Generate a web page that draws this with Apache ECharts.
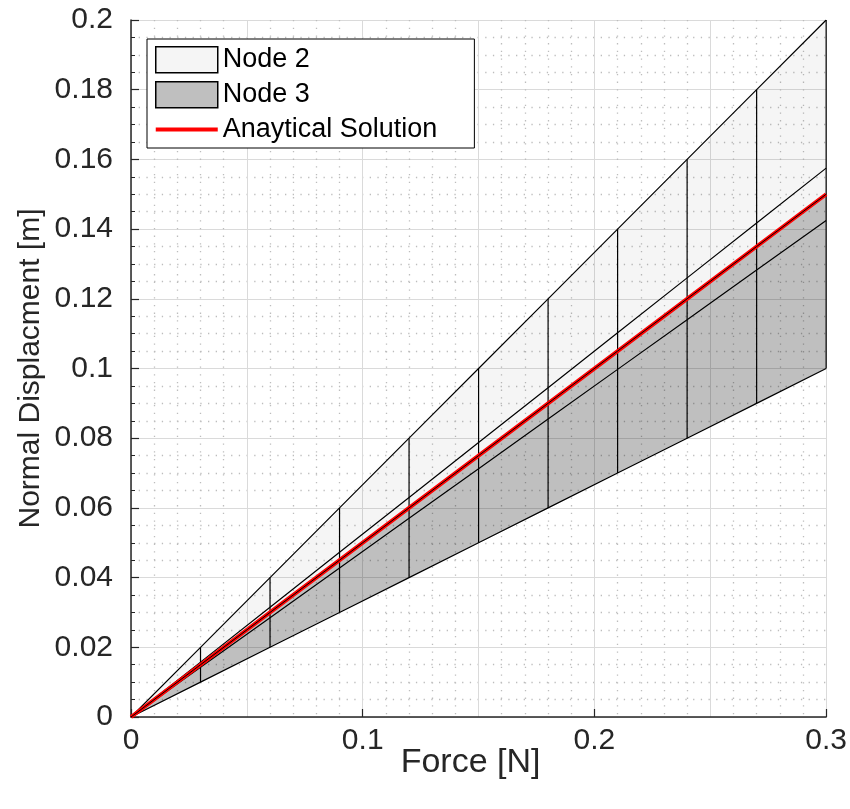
<!DOCTYPE html>
<html>
<head>
<meta charset="utf-8">
<title>Normal displacement vs force</title>
<script src="https://cdn.jsdelivr.net/npm/echarts@6/dist/echarts.min.js"></script>
<style>
  html, body { margin: 0; padding: 0; background: #fff; }
  #chart { width: 850px; height: 809px; }
</style>
</head>
<body>
<div id="chart"></div>
<script>
// Load steps [N]
const force = [0, 0.03, 0.06, 0.09, 0.12, 0.15, 0.18, 0.21, 0.24, 0.27, 0.3];
// Node 2 envelope, upper edge [m]
const node2Upper = [0, 0.02, 0.04, 0.06, 0.08, 0.10, 0.12, 0.14, 0.16, 0.18, 0.20];
// Node 3 envelope, lower edge [m]
const node3Lower = [0, 0.01, 0.02, 0.03, 0.04, 0.05, 0.06, 0.07, 0.08, 0.09, 0.10];
// Closed-form solution [m]
const analytical = [0, 0.015, 0.03, 0.045, 0.06, 0.075, 0.09, 0.105, 0.12, 0.135, 0.15];
// +/- 5 % bounds around the closed-form solution [m]
const boundHigh = [0, 0.01575, 0.0315, 0.04725, 0.063, 0.07875, 0.0945, 0.11025, 0.126, 0.14175, 0.1575];
const boundLow = [0, 0.01425, 0.0285, 0.04275, 0.057, 0.07125, 0.0855, 0.09975, 0.114, 0.12825, 0.1425];

const FONT = "'Liberation Sans', Arial, Helvetica, sans-serif";
const AXIS_COLOR = '#262626';

// Filled band between two curves, drawn as one polygon through the axis scales
function bandRenderer(upper, lower, fill) {
  return function (params, api) {
    const pts = [];
    for (let i = 0; i < force.length; i++) pts.push(api.coord([force[i], upper[i]]));
    for (let i = force.length - 1; i >= 0; i--) pts.push(api.coord([force[i], lower[i]]));
    return { type: 'polygon', shape: { points: pts }, style: { fill: fill, stroke: null } };
  };
}

function lineSeries(values, color, width, z) {
  return {
    type: 'line',
    data: force.map((f, i) => [f, values[i]]),
    symbol: 'none',
    silent: true,
    lineStyle: { color: color, width: width },
    z: z
  };
}

const chart = echarts.init(document.getElementById('chart'), null, { renderer: 'canvas' });

chart.setOption({
  animation: false,
  backgroundColor: '#fff',
  grid: { left: 131, right: 20, top: 20, bottom: 92, containLabel: false },
  legend: {
    orient: 'vertical',
    left: 147,
    top: 39,
    padding: [7, 37, 5, 8],
    itemWidth: 62,
    itemHeight: 26,
    itemGap: 7.5,
    selectedMode: false,
    backgroundColor: '#fff',
    borderColor: '#000',
    borderWidth: 1,
    textStyle: { fontSize: 27, color: '#000', fontFamily: FONT },
    data: [
      { name: 'Node 2', icon: 'rect', itemStyle: { color: '#f5f5f5', borderColor: '#000', borderWidth: 1.5 } },
      { name: 'Node 3', icon: 'rect', itemStyle: { color: '#bfbfbf', borderColor: '#000', borderWidth: 1.5 } },
      { name: 'Anaytical Solution', icon: 'path://M0,0L62,0L62,4L0,4Z', itemStyle: { color: '#ff0000' } }
    ]
  },
  xAxis: [
    {
      type: 'value',
      min: 0,
      max: 0.3,
      interval: 0.1,
      position: 'bottom',
      name: 'Force [N]',
      nameLocation: 'middle',
      nameGap: 29,
      nameMoveOverlap: false,
      nameTextStyle: { fontSize: 34, color: AXIS_COLOR, fontFamily: FONT, padding: [0, 16, 0, 0] },
      axisLine: { show: true, onZero: false, lineStyle: { color: AXIS_COLOR, width: 1.5 } },
      axisTick: { show: true, inside: true, length: 8, lineStyle: { color: AXIS_COLOR, width: 1.2 } },
      axisLabel: {
        margin: 9, fontSize: 30, color: AXIS_COLOR, fontFamily: FONT,
        formatter: v => String(+v.toFixed(3))
      },
      splitLine: { show: false }
    },
    {
      // grid lines every 0.05 with dotted minor lines every 0.01
      type: 'value',
      min: 0,
      max: 0.3,
      interval: 0.05,
      position: 'top',
      axisLine: { show: false },
      axisTick: { show: false },
      axisLabel: { show: false },
      splitLine: { show: true, lineStyle: { color: '#dadada', width: 1 } },
      minorTick: { show: false, splitNumber: 5 },
      minorSplitLine: { show: true, lineStyle: { color: '#bdbdbd', width: 1.3, type: [1.3, 6.4] } }
    }
  ],
  yAxis: {
    type: 'value',
    min: 0,
    max: 0.2,
    interval: 0.02,
    name: 'Normal Displacment [m]',
    nameLocation: 'middle',
    nameGap: 85,
    nameRotate: 90,
    nameMoveOverlap: false,
    nameTextStyle: { fontSize: 30, color: AXIS_COLOR, fontFamily: FONT },
    axisLine: { show: true, onZero: false, lineStyle: { color: AXIS_COLOR, width: 1.5 } },
    axisTick: { show: true, inside: true, length: 8, lineStyle: { color: AXIS_COLOR, width: 1.2 } },
    minorTick: { show: true, splitNumber: 4, length: 4, lineStyle: { color: AXIS_COLOR, width: 1 } },
    axisLabel: {
      margin: 18, fontSize: 30, color: AXIS_COLOR, fontFamily: FONT,
      formatter: v => String(+v.toFixed(3))
    },
    splitLine: { show: true, lineStyle: { color: '#dadada', width: 1 } },
    minorSplitLine: { show: true, lineStyle: { color: '#bdbdbd', width: 1.3, type: [1.3, 6.4] } }
  },
  series: [
    {
      type: 'custom',
      name: 'Node 2',
      silent: true,
      z: 1,
      itemStyle: { color: '#f5f5f5' },
      renderItem: bandRenderer(node2Upper, analytical, 'rgba(0,0,0,0.04)'),
      data: [[0, 0]]
    },
    {
      type: 'custom',
      name: 'Node 3',
      silent: true,
      z: 1,
      itemStyle: { color: '#bfbfbf' },
      renderItem: bandRenderer(analytical, node3Lower, 'rgba(0,0,0,0.25)'),
      data: [[0, 0]]
    },
    {
      // vertical edges at each load step
      type: 'custom',
      silent: true,
      z: 3,
      encode: { x: 0, y: [1, 2] },
      renderItem: function (params, api) {
        const x = api.value(0);
        const p1 = api.coord([x, api.value(1)]);
        const p2 = api.coord([x, api.value(2)]);
        return {
          type: 'line',
          shape: { x1: p1[0], y1: p1[1], x2: p2[0], y2: p2[1] },
          style: { stroke: '#000', lineWidth: 1.2 }
        };
      },
      data: force.map((f, i) => [f, node3Lower[i], node2Upper[i]]).slice(1)
    },
    lineSeries(node2Upper, '#000', 1.2, 3),
    lineSeries(boundHigh, '#000', 1.2, 3),
    lineSeries(boundLow, '#000', 1.2, 3),
    lineSeries(node3Lower, '#000', 1.2, 3),
    Object.assign(lineSeries(analytical, '#ff0000', 4, 4), { name: 'Anaytical Solution' }),
    lineSeries(analytical, '#000', 1, 5)
  ]
});
</script>
</body>
</html>
